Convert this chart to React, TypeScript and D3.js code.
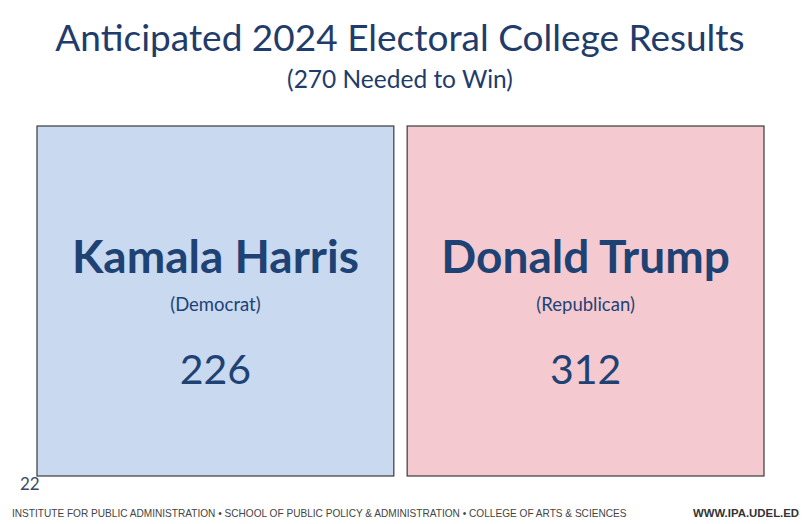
import { scaleBand } from "d3";

const candidates = ["Kamala Harris", "Donald Trump"];
const parties = ["(Democrat)", "(Republican)"];
const electoralVotes = [226, 312];
const fills = ["#c8d9f0", "#f4cad0"];

const W = 805;
const H = 524;
const font = "Lato, 'Open Sans', sans-serif";
const ink = "#1f4274";

export default function App() {
  const x = scaleBand<string>()
    .domain(candidates)
    .range([37, 764])
    .paddingInner(0.036);

  const boxTop = 126;
  const boxBottom = 476;

  return (
    <svg
      width={W}
      height={H}
      style={{ position: "absolute", left: 0, top: 0, background: "#fff" }}
      fontFamily={font}
    >
      <text x={400} y={51} textAnchor="middle" fontSize={37} fill="#1f3c6b">
        Anticipated 2024 Electoral College Results
      </text>
      <text x={400} y={88} textAnchor="middle" fontSize={24.5} fill="#1f3c6b">
        (270 Needed to Win)
      </text>

      {candidates.map((c, i) => {
        const x0 = x(c) ?? 0;
        const cx = x0 + x.bandwidth() / 2;
        return (
          <g key={c}>
            <rect
              x={x0}
              y={boxTop}
              width={x.bandwidth()}
              height={boxBottom - boxTop}
              fill={fills[i]}
              stroke="#3a3a3a"
              strokeWidth={1.2}
            />
            <text x={cx} y={273} textAnchor="middle" fontSize={46} fontWeight={700} fill={ink}>
              {c}
            </text>
            <text x={cx} y={311} textAnchor="middle" fontSize={18.5} fill={ink}>
              {parties[i]}
            </text>
            <text x={cx} y={384} textAnchor="middle" fontSize={41} fill={ink}>
              {electoralVotes[i]}
            </text>
          </g>
        );
      })}

      <text x={20} y={490} fontSize={17} fill="#3b4a66">22</text>

      <text x={12} y={517} fontSize={10.1} fill="#444" fontFamily="'Liberation Sans', Arial, sans-serif">
        INSTITUTE  FOR PUBLIC ADMINISTRATION  • SCHOOL OF PUBLIC POLICY &amp; ADMINISTRATION  • COLLEGE OF ARTS &amp; SCIENCES
      </text>
      <text x={693} y={517} fontSize={11.4} fontWeight={700} fill="#333" fontFamily="'Liberation Sans', Arial, sans-serif">
        WWW.IPA.UDEL.ED
      </text>
    </svg>
  );
}
